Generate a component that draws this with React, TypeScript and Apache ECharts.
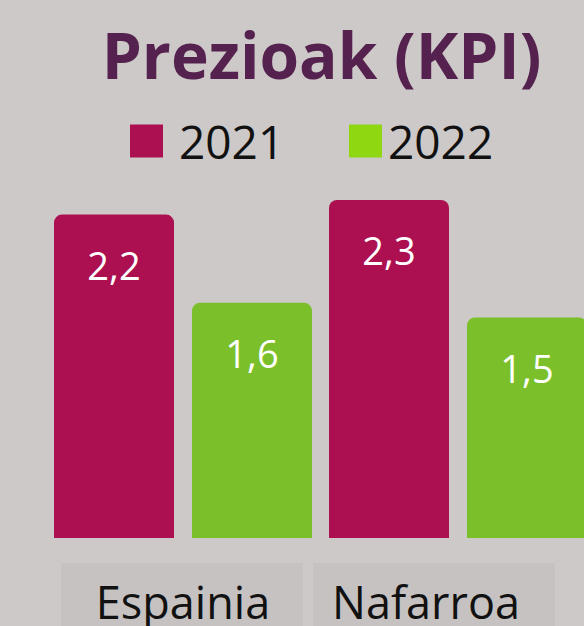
import React, { useEffect, useRef } from "react";
import * as echarts from "echarts";

const categories = ["Espainia", "Nafarroa"];
const seriesNames = ["2021", "2022"];
const values2021 = [2.2, 2.3];
const values2022 = [1.6, 1.5];
const titleText = "Prezioak (KPI)";

const BG = "#cdc9c8";
const BOX = "#c5c2c1";
const MAGENTA = "#ad1050";
const GREEN = "#7bbf2a";
const GREEN_LEGEND = "#8fd811";
const FONT = "'Open Sans', 'Noto Sans', sans-serif";

export default function App() {
  const ref = useRef<HTMLDivElement>(null);
  useEffect(() => {
    if (!ref.current) return;
    const chart = echarts.init(ref.current, null, { renderer: "svg" });
    const fmt = (p: any) => String(p.value).replace(".", ",");
    const boxW = 242;
    const boxGap = 10;
    const boxX0 = 61;
    const graphic: any[] = [];
    categories.forEach((c, i) => {
      const x = boxX0 + i * (boxW + boxGap);
      graphic.push({
        type: "rect",
        shape: { x, y: 563, width: boxW, height: 70 },
        style: { fill: BOX },
        silent: true,
      });
      graphic.push({
        type: "text",
        x: x + boxW / 2 + (i === 0 ? 1 : -8),
        y: 601,
        style: {
          text: c,
          fill: "#111",
          font: `45px ${FONT}`,
          textAlign: "center",
          textVerticalAlign: "middle",
        },
        silent: true,
      });
    });
    const legendCommon = {
      top: 118,
      padding: 0,
      itemWidth: 33,
      itemHeight: 33,
      icon: "rect",
    };
    chart.setOption({
      animation: false,
      backgroundColor: BG,
      title: {
        text: titleText,
        left: 321.5,
        top: 22,
        padding: 0,
        textAlign: "center",
        textStyle: { fontFamily: FONT, fontSize: 64, fontWeight: "bold", color: "#55224f" },
      },
      legend: [
        {
          ...legendCommon,
          data: [{ name: seriesNames[0], itemStyle: { color: MAGENTA } }],
          left: 130,
          textStyle: { fontFamily: FONT, fontSize: 46, color: "#111", padding: [0, 0, 0, 11] },
        },
        {
          ...legendCommon,
          data: [{ name: seriesNames[1], itemStyle: { color: GREEN_LEGEND } }],
          left: 349,
          textStyle: { fontFamily: FONT, fontSize: 46, color: "#111", padding: [0, 0, 0, 1] },
        },
      ],
      grid: { left: 45.5, width: 550, top: 170.5, bottom: 88, containLabel: false },
      xAxis: {
        type: "category",
        data: categories,
        axisLine: { show: false },
        axisTick: { show: false },
        axisLabel: { show: false },
      },
      yAxis: { type: "value", min: 0, max: 2.5, show: false, splitLine: { show: false } },
      series: [
        {
          name: seriesNames[0],
          type: "bar",
          data: values2021,
          barWidth: 120,
          barGap: "15%",
          itemStyle: { color: MAGENTA, borderRadius: [8, 8, 0, 0] },
          label: {
            show: true,
            position: "insideTop",
            distance: 31,
            formatter: fmt,
            color: "#fff",
            fontFamily: FONT,
            fontSize: 38,
          },
        },
        {
          name: seriesNames[1],
          type: "bar",
          data: values2022,
          barWidth: 120,
          itemStyle: { color: GREEN, borderRadius: [8, 8, 0, 0] },
          label: {
            show: true,
            position: "insideTop",
            distance: 31,
            formatter: fmt,
            color: "#fff",
            fontFamily: FONT,
            fontSize: 38,
          },
        },
      ],
      graphic,
    });
    return () => chart.dispose();
  }, []);
  return (
    <div style={{ width: 584, height: 626, position: "absolute", left: 0, top: 0, overflow: "hidden", background: BG }}>
      <div ref={ref} style={{ width: 620, height: 626 }} />
    </div>
  );
}
